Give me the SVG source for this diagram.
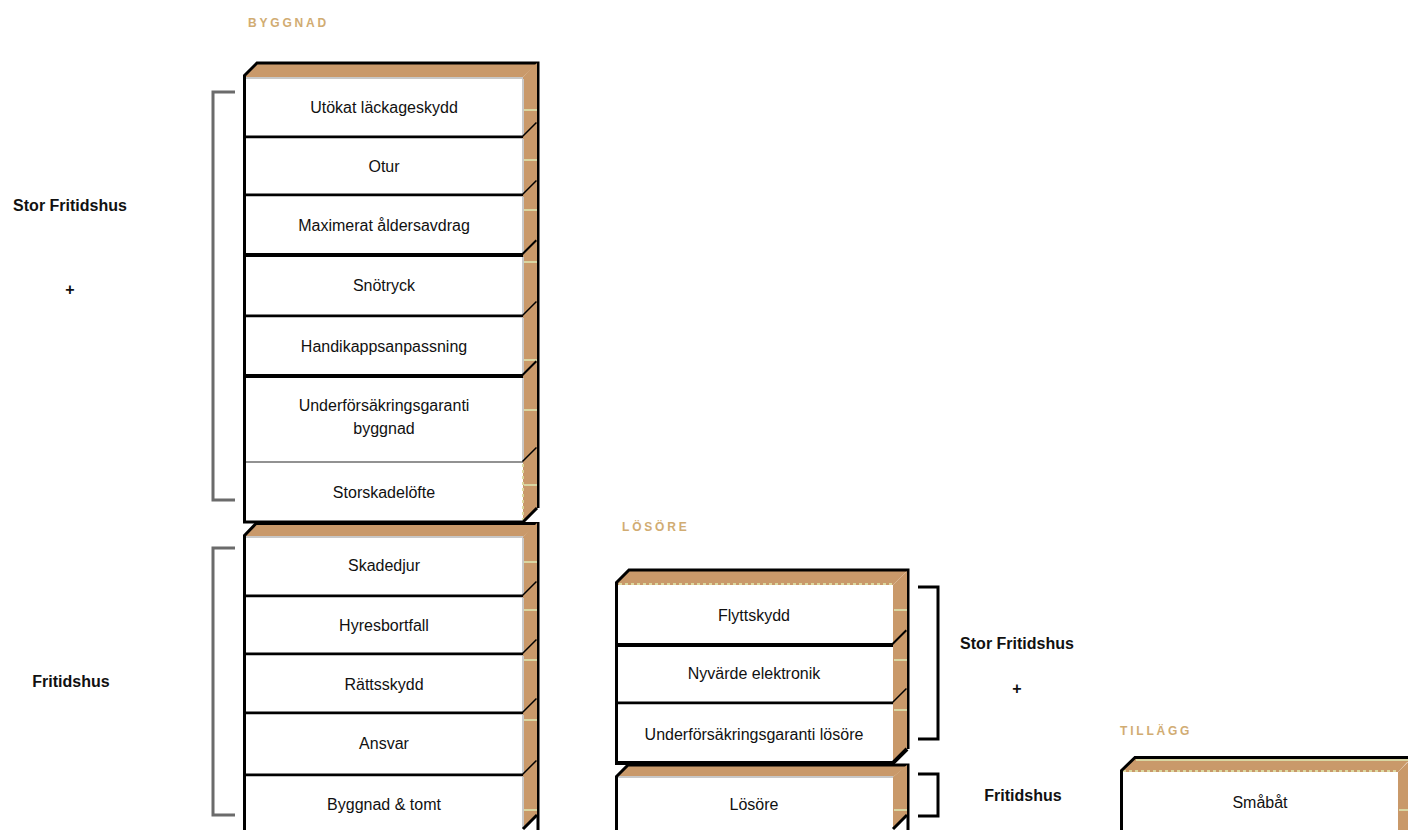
<svg xmlns="http://www.w3.org/2000/svg" width="1408" height="830" viewBox="0 0 1408 830">
<style>
.front{fill:#ffffff}
.side{fill:#c9996a}
.topf{fill:#c9996a}
.edge{fill:none;stroke:#000;stroke-width:3;stroke-linejoin:miter}
.sep{fill:none;stroke:#000;stroke-width:3}
.sepb{fill:none;stroke:#000;stroke-width:4}
.sept{fill:none;stroke:#6e6e6e;stroke-width:1.5}
.gl{stroke:#c8c8c8;stroke-width:2}
.tick{stroke:#d9d6a2;stroke-width:2}
.dot{stroke:#dcd9a0;stroke-width:2;stroke-dasharray:3 3}
.lbl{font-family:"Liberation Sans",Arial,sans-serif;font-size:16px;fill:#111;text-anchor:middle}
.side-lbl{font-family:"Liberation Sans",Arial,sans-serif;font-size:16px;font-weight:bold;fill:#111;text-anchor:middle}
.hdr{font-family:"Liberation Sans",Arial,sans-serif;font-size:12px;font-weight:bold;fill:#d1ac72;letter-spacing:2.8px}
.brk{fill:none;stroke:#6b6b6b;stroke-width:3}
.brkd{fill:none;stroke:#000;stroke-width:3}
</style>

<!-- Headers -->
<g id="headers">
<text class="hdr" x="248" y="27">BYGGNAD</text>
<text class="hdr" x="622" y="531">LÖSÖRE</text>
<text class="hdr" x="1120" y="735">TILLÄGG</text>
</g>

<!-- Stack 1: BYGGNAD (Stor Fritidshus) -->
<g id="stack-byggnad-stor">
<g id="top-byggnad-stor">
<polygon class="topf" points="243,77 257,63 538,63 523,77"/>
<line class="gl" x1="246" y1="78" x2="523" y2="78"/>
<path class="edge" d="M244,76 L257,63 H538 V508"/>
<line class="edge" x1="244.5" y1="75" x2="244.5" y2="522"/>
</g>
<g id="row-utokat">
<rect class="front" x="246" y="79" width="277" height="58"/>
<polygon class="side" points="523,77 537,63 537,123 523,137"/>
<line class="gl" x1="523" y1="79" x2="523" y2="137"/>
<line class="tick" x1="524" y1="110" x2="537" y2="110"/>
<path class="sep" d="M243,137 H523 L537,123"/>
<text class="lbl" x="384" y="113">Utökat läckageskydd</text>
</g>
<g id="row-otur">
<rect class="front" x="246" y="138.5" width="277" height="56.5"/>
<polygon class="side" points="523,137 537,123 537,181 523,195"/>
<line class="gl" x1="523" y1="139" x2="523" y2="195"/>
<line class="tick" x1="524" y1="160" x2="537" y2="160"/>
<path class="sep" d="M243,195 H523 L537,181"/>
<text class="lbl" x="384" y="172">Otur</text>
</g>
<g id="row-maximerat">
<rect class="front" x="246" y="196.5" width="277" height="58.5"/>
<polygon class="side" points="523,195 537,181 537,241 523,255"/>
<line class="gl" x1="523" y1="197" x2="523" y2="255"/>
<line class="tick" x1="524" y1="210" x2="537" y2="210"/>
<path class="sepb" d="M243,255 H523 L537,241"/>
<text class="lbl" x="384" y="231">Maximerat åldersavdrag</text>
</g>
<g id="row-snotryck">
<rect class="front" x="246" y="257" width="277" height="59"/>
<polygon class="side" points="523,255 537,241 537,302 523,316"/>
<line class="gl" x1="523" y1="257" x2="523" y2="316"/>
<line class="tick" x1="524" y1="262" x2="537" y2="262"/>
<path class="sep" d="M243,316 H523 L537,302"/>
<text class="lbl" x="384" y="291">Snötryck</text>
</g>
<g id="row-handikapp">
<rect class="front" x="246" y="317.5" width="277" height="58.5"/>
<polygon class="side" points="523,316 537,302 537,362 523,376"/>
<line class="gl" x1="523" y1="318" x2="523" y2="376"/>
<line class="tick" x1="524" y1="360" x2="537" y2="360"/>
<path class="sepb" d="M243,376 H523 L537,362"/>
<text class="lbl" x="384" y="352">Handikappsanpassning</text>
</g>
<g id="row-underforsakring-byggnad">
<rect class="front" x="246" y="378" width="277" height="84"/>
<polygon class="side" points="523,376 537,362 537,448 523,462"/>
<line class="gl" x1="523" y1="378" x2="523" y2="462"/>
<line class="tick" x1="524" y1="410" x2="537" y2="410"/>
<path class="sept" d="M246,462 H523"/>
<path class="sep" d="M523,462 L537,448"/>
<text class="lbl" x="384" y="411">Underförsäkringsgaranti</text>
<text class="lbl" x="384" y="434">byggnad</text>
</g>
<g id="row-storskadelofte">
<rect class="front" x="246" y="463" width="277" height="59"/>
<polygon class="side" points="523,462 537,448 537,508 523,522"/>
<line class="dot" x1="523" y1="464" x2="523" y2="520"/>
<line class="tick" x1="524" y1="485" x2="537" y2="485"/>
<path class="sep" d="M243,522 H523 L537,508"/>
<text class="lbl" x="384" y="498">Storskadelöfte</text>
</g>
</g>

<!-- Stack 2: BYGGNAD (Fritidshus) -->
<g id="stack-byggnad-fritid">
<g id="top-byggnad-fritid">
<polygon class="topf" points="243,537 256,524 538,524 523,537"/>
<line class="gl" x1="246" y1="537" x2="523" y2="537"/>
<path class="edge" d="M244,536 L256,523.5 H538 V830"/>
<line class="edge" x1="244.5" y1="535" x2="244.5" y2="830"/>
</g>
<g id="row-skadedjur">
<rect class="front" x="246" y="538" width="277" height="58"/>
<polygon class="side" points="523,537 537,523 537,582 523,596"/>
<line class="gl" x1="523" y1="538" x2="523" y2="596"/>
<line class="tick" x1="524" y1="562" x2="537" y2="562"/>
<path class="sep" d="M243,596 H523 L537,582"/>
<text class="lbl" x="384" y="571">Skadedjur</text>
</g>
<g id="row-hyresbortfall">
<rect class="front" x="246" y="597.5" width="277" height="56.5"/>
<polygon class="side" points="523,596 537,582 537,640 523,654"/>
<line class="gl" x1="523" y1="598" x2="523" y2="654"/>
<line class="tick" x1="524" y1="610" x2="537" y2="610"/>
<path class="sep" d="M243,654 H523 L537,640"/>
<text class="lbl" x="384" y="631">Hyresbortfall</text>
</g>
<g id="row-rattsskydd">
<rect class="front" x="246" y="655.5" width="277" height="57.5"/>
<polygon class="side" points="523,654 537,640 537,699 523,713"/>
<line class="gl" x1="523" y1="656" x2="523" y2="713"/>
<line class="tick" x1="524" y1="660" x2="537" y2="660"/>
<path class="sep" d="M243,713 H523 L537,699"/>
<text class="lbl" x="384" y="690">Rättsskydd</text>
</g>
<g id="row-ansvar">
<rect class="front" x="246" y="714.5" width="277" height="60.5"/>
<polygon class="side" points="523,713 537,699 537,761 523,775"/>
<line class="gl" x1="523" y1="715" x2="523" y2="775"/>
<line class="tick" x1="524" y1="720" x2="537" y2="720"/>
<path class="sep" d="M243,775 H523 L537,761"/>
<text class="lbl" x="384" y="749">Ansvar</text>
</g>
<g id="row-byggnad-tomt">
<rect class="front" x="246" y="776.5" width="277" height="53.5"/>
<polygon class="side" points="523,775 537,761 537,815 523,829"/>
<line class="gl" x1="523" y1="777" x2="523" y2="829"/>
<line class="tick" x1="524" y1="810" x2="537" y2="810"/>
<path class="sep" d="M523,829 L537,815"/>
<text class="lbl" x="384" y="810">Byggnad &amp; tomt</text>
</g>
</g>

<!-- Stack 3: LÖSÖRE (Stor Fritidshus) -->
<g id="stack-losore-stor">
<g id="top-losore-stor">
<polygon class="topf" points="615,585 629,570 908,570 893,585"/>
<line class="dot" x1="619" y1="584" x2="893" y2="584"/>
<path class="edge" d="M616,583 L629,570 H908 V749"/>
<line class="edge" x1="616.5" y1="582" x2="616.5" y2="763"/>
</g>
<g id="row-flyttskydd">
<rect class="front" x="618" y="586" width="275" height="59"/>
<polygon class="side" points="893,585 907,571 907,631 893,645"/>
<line class="tick" x1="894" y1="610" x2="907" y2="610"/>
<path class="sepb" d="M615,645 H893 L907,631"/>
<text class="lbl" x="754" y="621">Flyttskydd</text>
</g>
<g id="row-nyvarde">
<rect class="front" x="618" y="647" width="275" height="56"/>
<polygon class="side" points="893,645 907,631 907,689 893,703"/>
<line class="tick" x1="894" y1="660" x2="907" y2="660"/>
<path class="sep" d="M615,703 H893 L907,689"/>
<text class="lbl" x="754" y="679">Nyvärde elektronik</text>
</g>
<g id="row-underforsakring-losore">
<rect class="front" x="618" y="704.5" width="275" height="58.5"/>
<polygon class="side" points="893,703 907,689 907,749 893,763"/>
<line class="tick" x1="894" y1="710" x2="907" y2="710"/>
<path class="sepb" d="M615,763 H893 L907,749"/>
<text class="lbl" x="754" y="740">Underförsäkringsgaranti lösöre</text>
</g>
</g>

<!-- Stack 4: LÖSÖRE (Fritidshus) -->
<g id="stack-losore-fritid">
<g id="top-losore-fritid">
<polygon class="topf" points="615,777 628,765 908,765 893,777"/>
<line class="gl" x1="618" y1="777" x2="893" y2="777"/>
<path class="edge" d="M616,777 L628,765 H908 V830"/>
<line class="edge" x1="616.5" y1="776" x2="616.5" y2="830"/>
</g>
<g id="row-losore">
<rect class="front" x="618" y="778" width="275" height="52"/>
<polygon class="side" points="893,777 907,765 907,815 893,829"/>
<line class="tick" x1="894" y1="810" x2="907" y2="810"/>
<path class="sep" d="M893,829 L907,815"/>
<text class="lbl" x="754" y="810">Lösöre</text>
</g>
</g>

<!-- Stack 5: TILLÄGG -->
<g id="stack-tillagg">
<g id="top-tillagg">
<polygon class="topf" points="1120,772 1135,757 1412,757 1398,772"/>
<line class="tick" x1="1136" y1="760" x2="1408" y2="760"/>
<line class="dot" x1="1123" y1="771" x2="1398" y2="771"/>
<path class="edge" d="M1121,771 L1135,757.5 H1412"/>
<line class="edge" x1="1121.5" y1="770" x2="1121.5" y2="830"/>
</g>
<g id="row-smabat">
<rect class="front" x="1123" y="773" width="275" height="57"/>
<polygon class="side" points="1398,772 1412,758 1412,830 1398,830"/>
<line class="tick" x1="1399" y1="810" x2="1408" y2="810"/>
<text class="lbl" x="1260" y="808">Småbåt</text>
</g>
</g>

<!-- Brackets and group labels -->
<g id="connectors">
<path class="brk" d="M235,92 H213 V500 H235"/>
<path class="brk" d="M235,548 H213 V815 H235"/>
<path class="brkd" d="M918,587 H938 V739 H918"/>
<path class="brkd" d="M918,774 H938 V816 H918"/>
</g>

<g id="group-labels">
<text class="side-lbl" x="70" y="211">Stor Fritidshus</text>
<text class="side-lbl" x="70" y="295">+</text>
<text class="side-lbl" x="71" y="687">Fritidshus</text>
<text class="side-lbl" x="1017" y="649">Stor Fritidshus</text>
<text class="side-lbl" x="1017" y="694">+</text>
<text class="side-lbl" x="1023" y="801">Fritidshus</text>
</g>
</svg>
